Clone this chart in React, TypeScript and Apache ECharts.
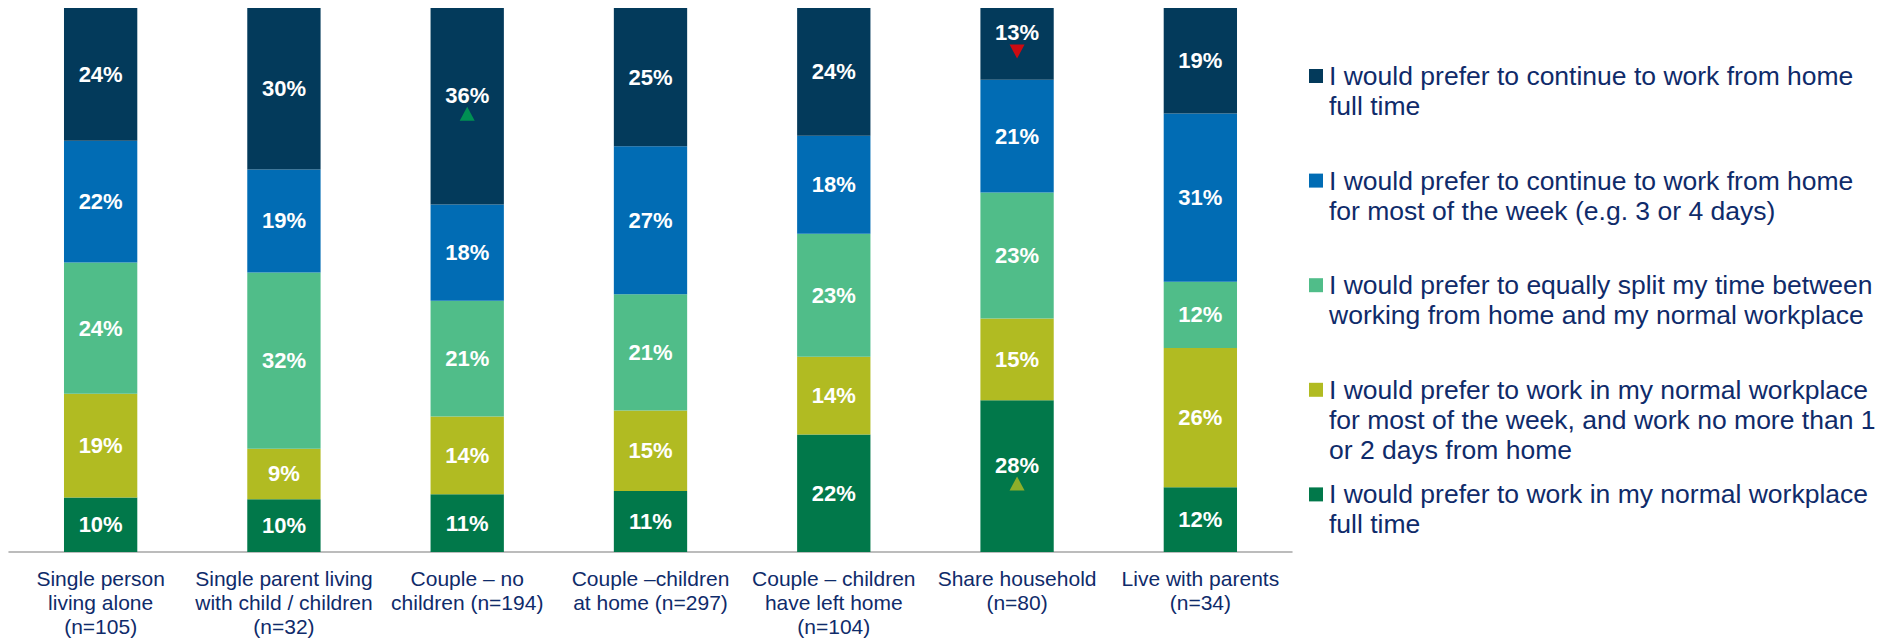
import React, { useEffect, useRef } from "react";
import * as echarts from "echarts";

const categories = [
  "Single person\nliving alone\n(n=105)",
  "Single parent living\nwith child / children\n(n=32)",
  "Couple – no\nchildren (n=194)",
  "Couple –children\nat home (n=297)",
  "Couple – children\nhave left home\n(n=104)",
  "Share household\n(n=80)",
  "Live with parents\n(n=34)",
];

// Stacked from the bottom up
const workplaceFull = [10.0, 9.7, 10.6, 11.2, 21.6, 27.9, 11.9];
const workplaceMost = [19.1, 9.3, 14.3, 14.8, 14.3, 15.0, 25.6];
const equalSplit = [24.1, 32.4, 21.3, 21.4, 22.6, 23.2, 12.2];
const homeMost = [22.4, 18.9, 17.7, 27.2, 18.0, 20.7, 30.9];
const homeFull = [24.4, 29.7, 36.1, 25.4, 23.5, 13.2, 19.4];

const seriesNames = [
  "I would prefer to work in my normal workplace\nfull time",
  "I would prefer to work in my normal workplace\nfor most of the week, and work no more than 1\nor 2 days from home",
  "I would prefer to equally split my time between\nworking from home and my normal workplace",
  "I would prefer to continue to work from home\nfor most of the week (e.g. 3 or 4 days)",
  "I would prefer to continue to work from home\nfull time",
];
const seriesColors = ["#01784A", "#B1BB22", "#50BD89", "#016CB4", "#033A5B"];

// Significance markers: category index, series index (bottom = 0), direction, colour
const markers = [
  { cat: 2, series: 4, dir: "up", color: "#00A651" },
  { cat: 5, series: 4, dir: "down", color: "#FF0000" },
  { cat: 5, series: 0, dir: "up", color: "#B1BB22" },
];

const TEXT = "#0F2B6A";
const FONT = "'Liberation Sans', Arial, Helvetica, sans-serif";

export default function App() {
  const ref = useRef<HTMLDivElement>(null);

  useEffect(() => {
    if (!ref.current) return;
    const chart = echarts.init(ref.current, undefined, { renderer: "svg" });
    const allSeries = [workplaceFull, workplaceMost, equalSplit, homeMost, homeFull];

    const barSeries = allSeries.map((vals, si) => ({
      name: seriesNames[si],
      type: "bar",
      stack: "total",
      barWidth: "40%",
      itemStyle: { color: seriesColors[si] },
      label: {
        show: true,
        position: "inside",
        color: "#FFFFFF",
        fontWeight: "bold",
        fontSize: 22,
        fontFamily: FONT,
        formatter: (p: any) => Math.round(p.value) + "%",
      },
      data: vals.map((v, ci) => {
        const hasMarker = markers.some((m) => m.cat === ci && m.series === si);
        return hasMarker ? { value: v, label: { offset: [0, -11] } } : v;
      }),
    }));

    const markerData = markers.map((m) => {
      let base = 0;
      for (let s = 0; s < m.series; s++) base += allSeries[s][m.cat];
      const mid = base + allSeries[m.series][m.cat] / 2;
      return {
        value: [m.cat, mid],
        symbolRotate: m.dir === "down" ? 180 : 0,
        itemStyle: { color: m.color },
      };
    });

    const legendOrder = [4, 3, 2, 1, 0];
    const graphic: any[] = [];
    legendOrder.forEach((si, i) => {
      const cy = 76 + i * 104.6;
      graphic.push({
        type: "rect",
        shape: { x: 1309, y: cy - 7, width: 14, height: 14 },
        style: { fill: seriesColors[si] },
      });
      graphic.push({
        type: "text",
        x: 1329,
        y: cy - 15,
        style: {
          text: seriesNames[si],
          fill: TEXT,
          font: `26.5px ${FONT}`,
          lineHeight: 30,
          verticalAlign: "top",
          align: "left",
        },
      });
    });

    chart.setOption({
      animation: false,
      grid: { left: 9, right: 587, top: 8, bottom: 86 },
      xAxis: {
        type: "category",
        data: categories,
        axisLine: { lineStyle: { color: "#A6A6A6", width: 1.5 } },
        axisTick: { length: 5, lineStyle: { color: "#A6A6A6", width: 1.5 } },
        axisLabel: {
          interval: 0,
          color: TEXT,
          fontSize: 21,
          fontFamily: FONT,
          lineHeight: 24,
          margin: 14,
          align: "center",
        },
      },
      yAxis: { type: "value", min: 0, max: 100, show: false, splitLine: { show: false } },
      series: [
        ...barSeries,
        {
          type: "scatter",
          symbol: "triangle",
          symbolSize: [15, 14],
          symbolOffset: [0, 7.5],
          z: 5,
          data: markerData,
        },
      ],
      graphic,
    });

    return () => chart.dispose();
  }, []);

  return (
    <div
      ref={ref}
      style={{ position: "absolute", left: 0, top: 0, width: 1879, height: 638 }}
    />
  );
}
